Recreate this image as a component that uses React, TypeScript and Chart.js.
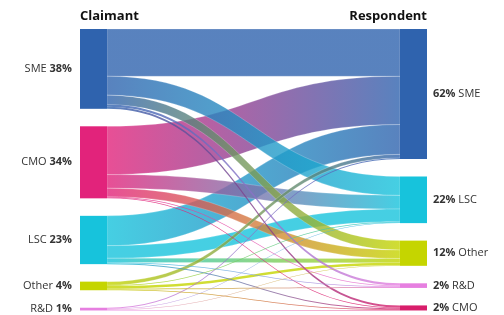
import React, { useEffect, useRef } from "react";
import { Chart, registerables } from "chart.js";

Chart.register(...registerables);

// Claimant (left) nodes, top to bottom
const claimantNames = ["SME", "CMO", "LSC", "Other", "R&D"];
const claimantColors = ["#2f63ae", "#e2237b", "#17c3dc", "#c5d500", "#e67fe0"];

// Respondent (right) nodes, top to bottom
const respondentNames = ["SME", "LSC", "Other", "R&D", "CMO"];
const respondentColors = ["#2f63ae", "#17c3dc", "#c5d500", "#e67fe0", "#d81e6b"];

// Flow values (%) from each claimant to respondents [SME, LSC, Other, R&D, CMO]
const fromSME = [22.5, 9.0, 4.5, 1.0, 1.0];
const fromCMO = [23.0, 6.5, 4.0, 0.4, 0.4];
const fromLSC = [14.2, 6.0, 2.0, 0.4, 0.4];
const fromOther = [1.7, 0.4, 1.2, 0.4, 0.4];
const fromRD = [0.5, 0.3, 0.3, 0.0, 0.2];
const flows = [fromSME, fromCMO, fromLSC, fromOther, fromRD];

// Displayed node percentages
const claimantPct = [38, 34, 23, 4, 1];
const respondentPct = [62, 22, 12, 2, 2];

const columnTitles = ["Claimant", "Respondent"];

const GAP = 8.33;
const NODE_W = 27;

function hexToRgba(hex: string, a: number) {
  const n = parseInt(hex.slice(1), 16);
  return `rgba(${(n >> 16) & 255},${(n >> 8) & 255},${n & 255},${a})`;
}

function stack(values: number[]) {
  let y = 0;
  return values.map((v) => {
    const s = y;
    y += v + GAP;
    return [s, s + v];
  });
}

const sankeyPlugin = {
  id: "sankey",
  afterDatasetsDraw(chart: any) {
    const { ctx, scales } = chart;
    const xs = scales.x;
    const ys = scales.y;
    const leftTot = flows.map((r) => r.reduce((a, b) => a + b, 0));
    const rightTot = respondentNames.map((_, j) => flows.reduce((a, r) => a + r[j], 0));
    const leftPos = stack(leftTot);
    const rightPos = stack(rightTot);

    const xL = xs.getPixelForValue(0);
    const xR = xs.getPixelForValue(1);
    const x0 = xL + NODE_W;
    const x1 = xR - NODE_W;
    const xm = (x0 + x1) / 2;

    const bands: any[] = [];
    const tgtCursor = rightPos.map((p) => p[0]);
    flows.forEach((row, i) => {
      let sc = leftPos[i][0];
      row.forEach((v, j) => {
        if (v <= 0) { return; }
        bands.push({ i, j, v, s0: sc, s1: sc + v, t0: tgtCursor[j], t1: tgtCursor[j] + v });
        sc += v;
        tgtCursor[j] += v;
      });
    });
    bands.sort((a, b) => b.v - a.v);

    ctx.save();
    bands.forEach((b) => {
      const g = ctx.createLinearGradient(x0, 0, x1, 0);
      g.addColorStop(0, hexToRgba(claimantColors[b.i], 0.8));
      g.addColorStop(1, hexToRgba(respondentColors[b.j], 0.8));
      const s0 = ys.getPixelForValue(b.s0);
      const s1 = ys.getPixelForValue(b.s1);
      const t0 = ys.getPixelForValue(b.t0);
      const t1 = ys.getPixelForValue(b.t1);
      ctx.beginPath();
      ctx.moveTo(x0, s0);
      ctx.bezierCurveTo(xm, s0, xm, t0, x1, t0);
      ctx.lineTo(x1, t1);
      ctx.bezierCurveTo(xm, t1, xm, s1, x0, s1);
      ctx.closePath();
      ctx.fillStyle = g;
      ctx.fill();
      ctx.strokeStyle = "rgba(255,255,255,0.35)";
      ctx.lineWidth = 0.6;
      if (b.v > 1.5) ctx.stroke();
    });

    // nodes
    leftPos.forEach((p, i) => {
      const a = ys.getPixelForValue(p[0]);
      const c = ys.getPixelForValue(p[1]);
      ctx.fillStyle = claimantColors[i];
      ctx.fillRect(xL, a, NODE_W, Math.max(2, c - a));
    });
    rightPos.forEach((p, j) => {
      const a = ys.getPixelForValue(p[0]);
      const c = ys.getPixelForValue(p[1]);
      ctx.fillStyle = respondentColors[j];
      ctx.fillRect(x1, a, NODE_W, Math.max(2, c - a));
    });

    // labels
    const normal = "11px 'Open Sans'";
    const bold = "bold 11px 'Open Sans'";
    ctx.textBaseline = "middle";
    ctx.fillStyle = "#333";
    leftPos.forEach((p, i) => {
      const yc = ys.getPixelForValue((p[0] + p[1]) / 2);
      const pct = claimantPct[i] + "%";
      ctx.font = bold;
      const wb = ctx.measureText(pct).width;
      ctx.textAlign = "right";
      ctx.fillText(pct, xL - 8, yc);
      ctx.font = normal;
      ctx.fillText(claimantNames[i] + " ", xL - 8 - wb, yc);
    });
    rightPos.forEach((p, j) => {
      const yc = ys.getPixelForValue((p[0] + p[1]) / 2);
      const pct = respondentPct[j] + "%";
      ctx.font = bold;
      ctx.textAlign = "left";
      const wb = ctx.measureText(pct).width;
      ctx.fillText(pct, xR + 6, yc);
      ctx.font = normal;
      ctx.fillText(" " + respondentNames[j], xR + 6 + wb, yc);
    });

    // column titles
    ctx.font = "bold 13px 'Open Sans'";
    ctx.fillStyle = "#111";
    ctx.textBaseline = "alphabetic";
    ctx.textAlign = "left";
    ctx.fillText(columnTitles[0], xL, 20);
    ctx.textAlign = "right";
    ctx.fillText(columnTitles[1], xR, 20);
    ctx.restore();
  },
};

export default function App() {
  const ref = useRef<HTMLCanvasElement | null>(null);
  useEffect(() => {
    if (!ref.current) return;
    const chart = new Chart(ref.current, {
      type: "scatter",
      data: { datasets: [{ data: [] }] },
      options: {
        animation: false,
        responsive: false,
        layout: { padding: { top: 29, bottom: 6, left: 80, right: 77 } },
        plugins: { legend: { display: false }, tooltip: { enabled: false } },
        scales: {
          x: { type: "linear", min: 0, max: 1, display: false },
          y: { type: "linear", min: 0, max: 100 + 4 * GAP, reverse: true, display: false },
        },
      },
      plugins: [sankeyPlugin],
    });
    return () => chart.destroy();
  }, []);
  return (
    <div style={{ position: "fixed", left: 0, top: 0, width: 504, height: 315, background: "#fff" }}>
      <canvas ref={ref} width={504} height={315} style={{ display: "block" }} />
    </div>
  );
}
